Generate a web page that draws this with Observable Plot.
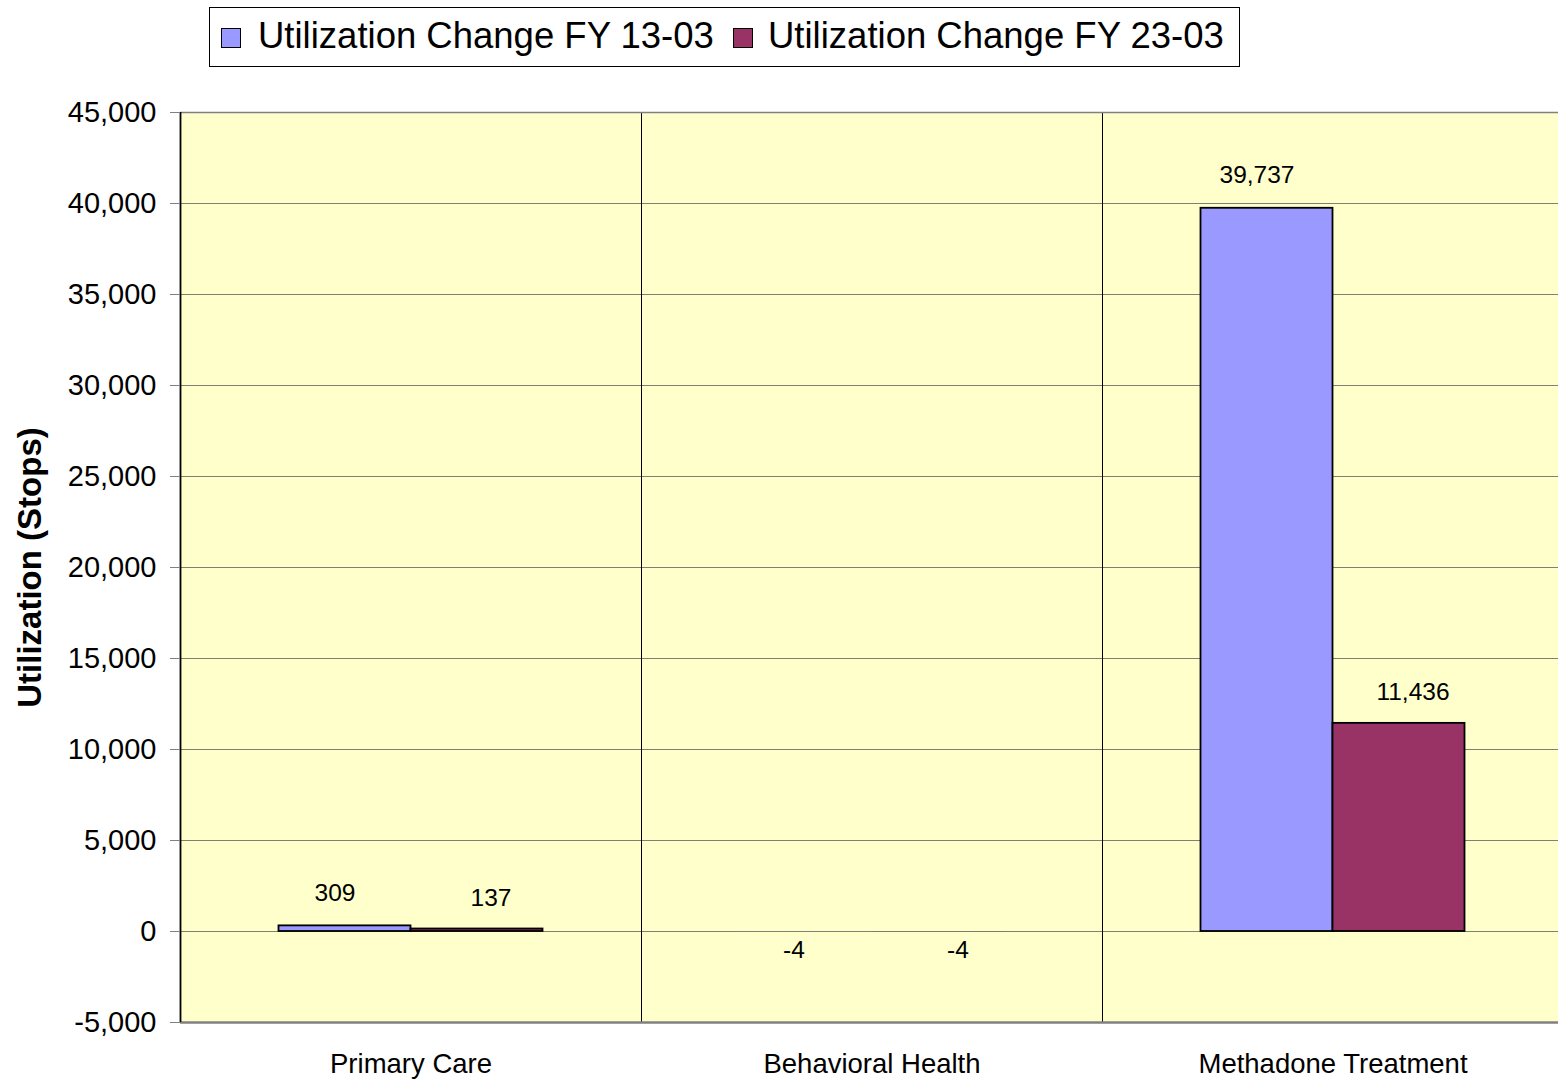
<!DOCTYPE html>
<html>
<head>
<meta charset="utf-8">
<script src="https://cdn.jsdelivr.net/npm/d3@7"></script>
<script src="https://cdn.jsdelivr.net/npm/@observablehq/plot@0.6"></script>
<style>
  html, body { margin: 0; padding: 0; background: #fff; }
  body { width: 1558px; height: 1085px; overflow: hidden; font-family: "Liberation Sans", Arial, sans-serif; }
  #legendRow { height: 80px; position: relative; }
  #legend { position: absolute; left: 209px; top: 7px; width: 1029px; height: 58px; border: 1px solid #000;
            font-size: 36.5px; color: #000; white-space: nowrap; }
  .sw { width: 20px; height: 20px; border: 1.5px solid #000; box-sizing: border-box; }
  .lbl { position: absolute; top: 50%; transform: translateY(-52%); }
  #chart { width: 1558px; overflow: hidden; }
  #chart svg { display: block; max-width: none !important; }
</style>
</head>
<body>
<div id="legendRow"><div id="legend"></div></div>
<div id="chart"></div>
<script>
const categories = ["Primary Care", "Behavioral Health", "Methadone Treatment"];
const seriesNames = ["Utilization Change FY 13-03", "Utilization Change FY 23-03"];
const fy1303 = [309, -4, 39737];
const fy2303 = [137, -4, 11436];
const yTicks = [-5000, 0, 5000, 10000, 15000, 20000, 25000, 30000, 35000, 40000, 45000];
const seriesColors = ["#9999FF", "#993366"];
const yTitle = "Utilization (Stops)";

const rows = [];
categories.forEach((c, i) => {
  rows.push({category: c, series: seriesNames[0], value: fy1303[i]});
  rows.push({category: c, series: seriesNames[1], value: fy2303[i]});
});

// legend (positions relative to legend box)
const legend = document.getElementById("legend");
const swLeft = [11, 523];
const txtLeft = [48, 558];
seriesNames.forEach((s, i) => {
  const sw = document.createElement("div");
  sw.className = "sw";
  sw.style.position = "absolute";
  sw.style.left = swLeft[i] + "px";
  sw.style.top = "20px";
  sw.style.background = seriesColors[i];
  legend.appendChild(sw);
  const t = document.createElement("span");
  t.className = "lbl";
  t.style.left = txtLeft[i] + "px";
  t.textContent = s;
  legend.appendChild(t);
});

const ML = 180, MR = 0;
const band = 461;
const W = ML + MR + band * categories.length;
const barW = 132;
const inset = (band - barW) / 2;
const fmt = d3.formatLocale({decimal: ".", thousands: ",", grouping: [3], currency: ["$", ""], minus: "-"}).format(",");

const s0 = rows.filter(d => d.series === seriesNames[0]);
const s1 = rows.filter(d => d.series === seriesNames[1]);
// bars shorter than a pixel are drawn without outline (as in the original)
const visible = d => Math.abs(d.value) >= 60;

function bars(data, dx) {
  return [
    Plot.barY(data.filter(visible), {x: "category", y: "value", fill: "series", stroke: "#000", strokeWidth: 1.8,
                   insetLeft: inset, insetRight: inset, dx}),
    Plot.barY(data.filter(d => !visible(d)), {x: "category", y: "value", fill: "series",
                   insetLeft: inset, insetRight: inset, dx})
  ];
}

const chart = Plot.plot({
  width: W,
  height: 1005,
  marginTop: 32,
  marginLeft: ML,
  marginRight: MR,
  marginBottom: 63,
  style: {fontFamily: "'Liberation Sans', Arial, sans-serif", background: "transparent", color: "#000", maxWidth: "none"},
  x: {domain: categories, padding: 0, label: null},
  y: {domain: [-5000, 45000], label: null},
  color: {domain: seriesNames, range: seriesColors},
  marks: [
    Plot.frame({fill: "#FFFFCC", stroke: null}),
    Plot.gridY(yTicks, {stroke: "#7f7f73", strokeOpacity: 1, strokeWidth: 1}),
    Plot.ruleX(categories.slice(0, -1), {x: d => d, dx: band / 2, stroke: "#000", strokeWidth: 1}),
    ...bars(s0, -barW / 2),
    ...bars(s1, barW / 2),
    Plot.text(s0.filter(d => d.value >= 0), {x: "category", y: "value", text: d => fmt(d.value), dx: -barW / 2 - 10, dy: -33, fontSize: 24.5}),
    Plot.text(s1.filter(d => d.value >= 0), {x: "category", y: "value", text: d => fmt(d.value), dx: barW / 2 + 14, dy: -31, fontSize: 24.5}),
    Plot.text(s0.filter(d => d.value < 0), {x: "category", y: "value", text: d => fmt(d.value), dx: -barW / 2 - 12, dy: 19, fontSize: 24.5}),
    Plot.text(s1.filter(d => d.value < 0), {x: "category", y: "value", text: d => fmt(d.value), dx: barW / 2 + 20, dy: 19, fontSize: 24.5}),
    Plot.ruleY([-5000], {stroke: "#808080", strokeWidth: 2.5}),
    Plot.ruleY([45000], {stroke: "#808080", strokeWidth: 1.5}),
    Plot.ruleX([categories[0]], {x: d => d, dx: -band / 2, stroke: "#000", strokeWidth: 1.8}),
    Plot.axisY(yTicks, {tickFormat: fmt, fontSize: 29, tickSize: 10, tickPadding: 14, stroke: "#808080", label: null}),
    Plot.axisX({tickSize: 0, tickPadding: 31, fontSize: 27.5, label: null}),
    Plot.text([yTitle], {frameAnchor: "left", dx: -150, rotate: -90, textAnchor: "middle", fontWeight: "bold", fontSize: 33})
  ]
});
document.getElementById("chart").appendChild(chart);
</script>
</body>
</html>
